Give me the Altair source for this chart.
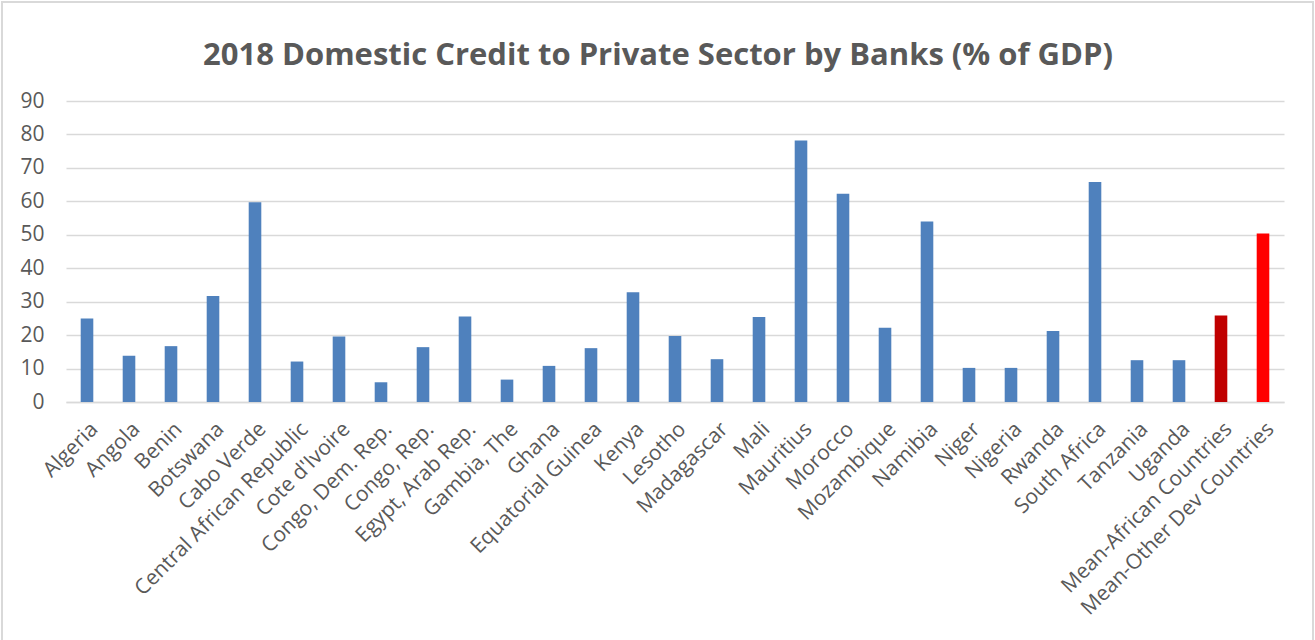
import altair as alt
import pandas as pd

title_text = "2018 Domestic Credit to Private Sector by Banks (% of GDP)"
countries = ["Algeria", "Angola", "Benin", "Botswana", "Cabo Verde", "Central African Republic",
             "Cote d'Ivoire", "Congo, Dem. Rep.", "Congo, Rep.", "Egypt, Arab Rep.", "Gambia, The",
             "Ghana", "Equatorial Guinea", "Kenya", "Lesotho", "Madagascar", "Mali", "Mauritius",
             "Morocco", "Mozambique", "Namibia", "Niger", "Nigeria", "Rwanda", "South Africa",
             "Tanzania", "Uganda", "Mean-African Countries", "Mean-Other Dev Countries"]
values = [25.0, 13.8, 16.7, 31.7, 59.7, 12.1, 19.6, 5.9, 16.4, 25.6, 6.7, 10.8, 16.1, 32.8,
          19.7, 12.8, 25.4, 78.2, 62.3, 22.2, 54.0, 10.2, 10.2, 21.2, 65.8, 12.5, 12.5, 25.9, 50.4]
groups = ["Country"] * 27 + ["Mean-African", "Mean-Other"]
group_names = ["Country", "Mean-African", "Mean-Other"]
group_colors = ["#4F81BD", "#C00000", "#FF0000"]

df = pd.DataFrame({"country": countries, "value": values, "group": groups})

FONT = "Open Sans"
GRAY = "#595959"
W, H = 1218, 301

bars = alt.Chart(df).mark_bar().encode(
    x=alt.X("country:N", sort=countries, title=None,
            scale=alt.Scale(paddingInner=0.7, paddingOuter=0.35),
            axis=alt.Axis(labelAngle=-45, labelFontSize=21, labelColor=GRAY, labelFont=FONT,
                          ticks=False, domainColor="#D9D9D9", domainWidth=1.5, labelPadding=16,
                          labelLimit=400)),
    y=alt.Y("value:Q", title=None,
            scale=alt.Scale(domain=[0, 90]),
            axis=alt.Axis(values=list(range(0, 91, 10)), labelFontSize=21, labelColor=GRAY,
                          labelFont=FONT, ticks=False, domain=False, gridColor="#D9D9D9",
                          gridWidth=1.5, labelPadding=22)),
    color=alt.Color("group:N", scale=alt.Scale(domain=group_names, range=group_colors), legend=None),
)

frame = alt.Chart(df).mark_rect(fill=None, stroke="#D9D9D9", strokeWidth=2).encode(
    x=alt.value(-64), x2=alt.value(W + 29), y=alt.value(-99), y2=alt.value(H + 260)
)

title = alt.Chart(pd.DataFrame({"t": [title_text]})).mark_text(
    font=FONT, fontSize=31, fontWeight="bold", color=GRAY, align="center", baseline="alphabetic"
).encode(text="t:N", x=alt.value(592), y=alt.value(-36))

chart = alt.layer(frame, bars, title).properties(
    width=W, height=H,
    autosize=alt.AutoSizeParams(type="none"),
    padding={"left": 66, "top": 101, "right": 31, "bottom": 238},
).configure(background="white").configure_view(stroke=None)

chart.save("out.html", embed_options={"renderer": "svg", "actions": False})
